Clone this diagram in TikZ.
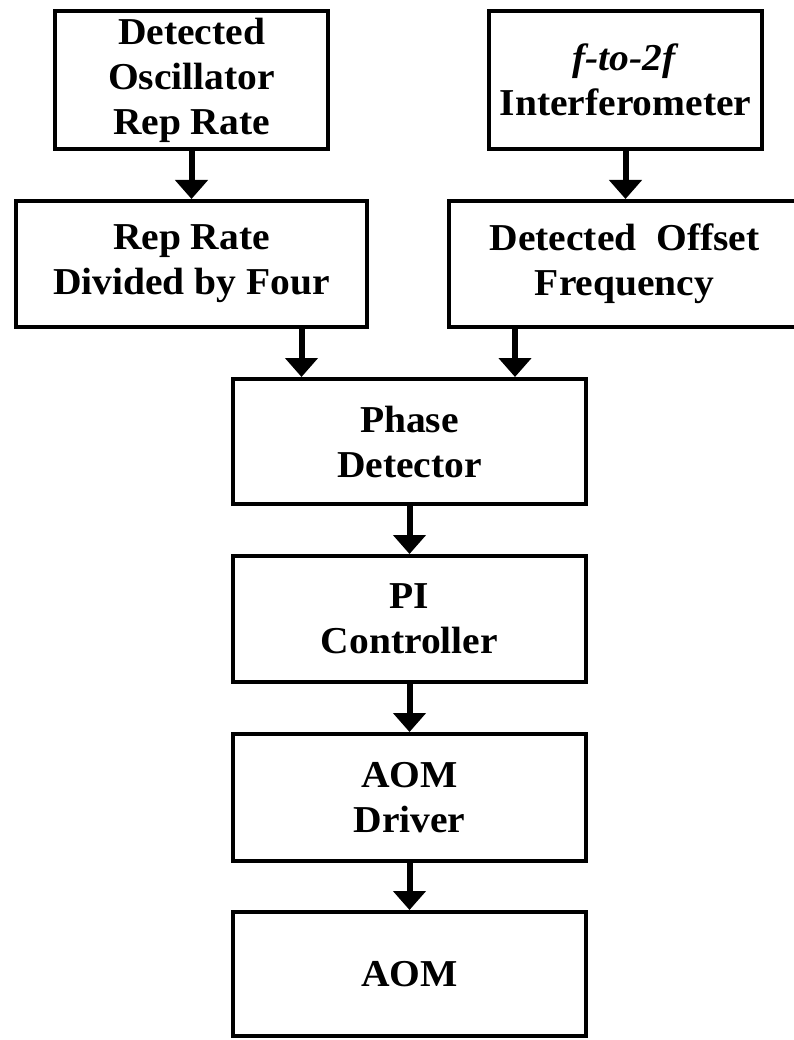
\documentclass[tikz,border=0pt]{standalone}
\usepackage{fontspec}
\setmainfont{Liberation Serif}[FakeStretch=1.04]
\usetikzlibrary{arrows.meta}

\begin{document}
\begin{tikzpicture}[x=1pt, y=-1pt,
  block/.style={draw, line width=4pt, rectangle, align=center, inner sep=0pt,
    font=\bfseries\fontsize{38}{45}\selectfont},
  flow/.style={line width=6pt, -{Triangle[width=32pt, length=19pt]}}]
\useasboundingbox (0,0) rectangle (793,1040);

% signal sources
\node[block, minimum width=273pt, minimum height=138pt] (osc) at (191.5,80)
  {Detected\\Oscillator\\Rep Rate};
\node[block, minimum width=273pt, minimum height=138pt] (ifm) at (625.5,80)
  {\textit{f-to-2f}\\Interferometer};

% conditioned signals
\node[block, minimum width=351pt, minimum height=126pt] (rep) at (191.5,264)
  {Rep Rate\\Divided by Four};
\node[block, minimum width=351pt, minimum height=126pt] (off) at (624.5,264)
  {Detected\ \ Offset\\Frequency};

% lock chain
\node[block, minimum width=353pt, minimum height=125pt] (pd) at (409.5,441.5)
  {Phase\\Detector};
\node[block, minimum width=353pt, minimum height=126pt] (pi) at (409.5,619)
  {PI\\Controller};
\node[block, minimum width=353pt, minimum height=127pt] (drv) at (409.5,797.5)
  {AOM\\Driver};
\node[block, minimum width=353pt, minimum height=124pt] (aom) at (409.5,974)
  {AOM};

% connections
\draw[flow] (osc.south) -- (rep.north);
\draw[flow] (ifm.south) -- (ifm.south |- off.north);
\draw[flow] ([xshift=-67.5pt]rep.south east) -- ([xshift=-67.5pt]rep.south east |- pd.north);
\draw[flow] ([xshift=68pt]off.south west) -- ([xshift=68pt]off.south west |- pd.north);
\draw[flow] (pd.south) -- (pi.north);
\draw[flow] (pi.south) -- (drv.north);
\draw[flow] (drv.south) -- (aom.north);
\end{tikzpicture}
\end{document}
